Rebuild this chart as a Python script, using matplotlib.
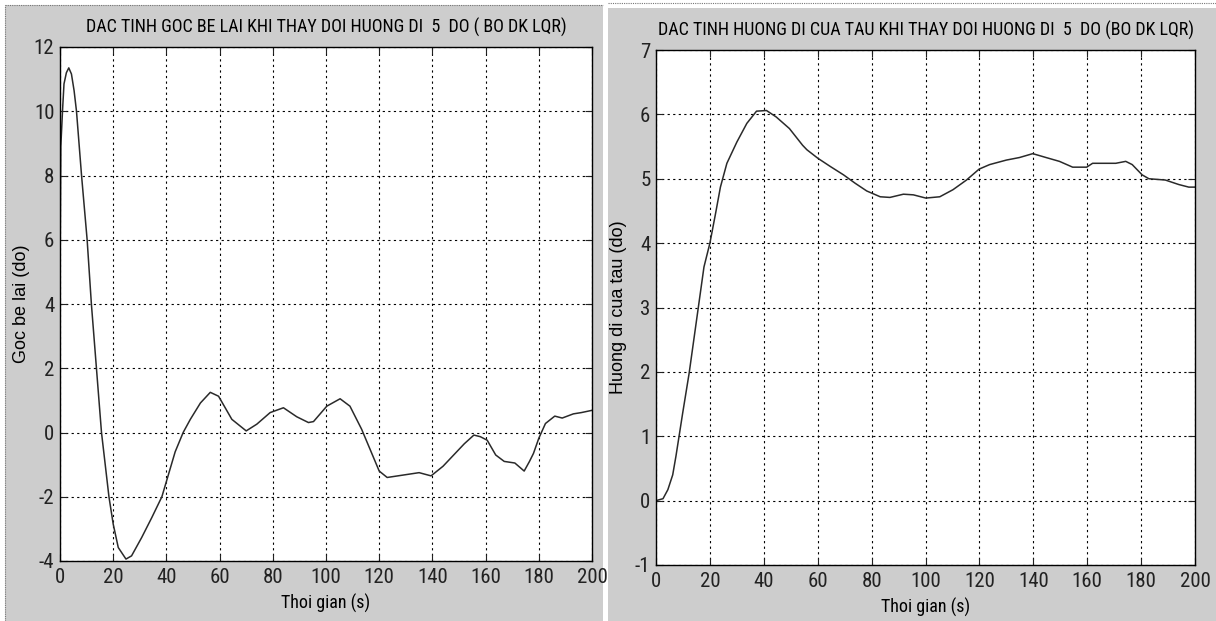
import numpy as np
import matplotlib
matplotlib.use("Agg")
import matplotlib.pyplot as plt
from matplotlib.patches import Rectangle
from matplotlib import font_manager

# rudder angle (left)
t_rud = [0, 0.3, 1.0, 1.5, 2.4, 3.3, 4.3, 5.3, 6.2, 8.1, 10.2, 11.8, 13.7, 15.6, 18.4,
         20, 21.9, 24.8, 26.9, 30.7, 34.5, 38.3, 43.3, 46.3, 49, 52.8, 56.5, 59.6,
         64.6, 70, 74, 79, 84, 89, 93.4, 95.3, 100.3, 105.3, 109, 113.4, 116.5, 120,
         123, 127, 131, 135, 139.5, 144, 148, 152, 155.6, 158, 160.6, 163.8, 167, 171,
         174.5, 176.5, 178, 180, 182.5, 186, 188.8, 193, 196, 200]
v_rud = [4.6, 8.9, 10.1, 10.85, 11.2, 11.35, 11.16, 10.64, 10.0, 8.0, 6.0, 4.0, 2.0, 0.0, -2.0,
         -2.85, -3.58, -3.94, -3.84, -3.27, -2.65, -2.0, -0.6, 0.0, 0.41, 0.92, 1.25, 1.13,
         0.41, 0.05, 0.26, 0.62, 0.77, 0.49, 0.31, 0.34, 0.82, 1.05, 0.82, 0.1, -0.51, -1.2,
         -1.4, -1.35, -1.3, -1.25, -1.35, -1.05, -0.7, -0.35, -0.08, -0.13, -0.24, -0.7, -0.9, -0.95,
         -1.2, -0.9, -0.65, -0.18, 0.28, 0.51, 0.45, 0.58, 0.62, 0.69]

# heading (right)
t_head = [0, 2.6, 4.4, 6.2, 7.4, 9.9, 12.3, 15.4, 17.8, 20, 22.1, 23.9, 26.3, 30, 33.7,
          37.3, 41, 44.6, 49.5, 54.4, 56, 60, 64.7, 69.6, 73.9, 78.2, 83.2, 86.8, 91.8,
          95.5, 100.1, 105.3, 110.2, 115.2, 119.9, 123.8, 130, 134.9, 139.8, 144.7, 149.7,
          154.6, 159.8, 162, 170.6, 174.3, 176.7, 180.4, 182.9, 189, 194, 197.7, 200]
v_head = [0, 0.03, 0.17, 0.40, 0.69, 1.36, 1.98, 2.91, 3.63, 4.0, 4.46, 4.87, 5.24, 5.57, 5.86,
          6.05, 6.06, 5.96, 5.78, 5.52, 5.45, 5.32, 5.19, 5.06, 4.93, 4.81, 4.72, 4.71, 4.76,
          4.75, 4.70, 4.72, 4.83, 4.98, 5.15, 5.22, 5.29, 5.33, 5.39, 5.33, 5.27,
          5.18, 5.18, 5.24, 5.24, 5.27, 5.22, 5.06, 5.0, 4.98, 4.91, 4.87, 4.87]

titles = ["DAC TINH GOC BE LAI KHI THAY DOI HUONG DI  5  DO ( BO DK LQR)",
          "DAC TINH HUONG DI CUA TAU KHI THAY DOI HUONG DI  5  DO (BO DK LQR)"]
ylabels = ["Goc be lai (do)", "Huong di cua tau (do)"]
xlab = "Thoi gian (s)"

names = {f.name for f in font_manager.fontManager.ttflist}
narrow = [n for n in ["Liberation Sans Narrow", "Roboto Condensed", "DejaVu Sans Condensed"]
          if n in names]
plt.rcParams['font.family'] = narrow + ['Liberation Sans', 'DejaVu Sans']
plt.rcParams['axes.unicode_minus'] = False
cond = len(narrow) > 0
fs_tick = 15 if cond else 12
fs_title = 13 if cond else 10.5
fs_lab = 13 if cond else 10.5

W, H = 1216, 621
fig = plt.figure(figsize=(W / 100, H / 100), dpi=100)
fig.patch.set_facecolor("white")

gray = "#cdcdcd"
# two screenshot panels
fig.patches.append(Rectangle((5 / W, 0), 598 / W, 616 / H, transform=fig.transFigure,
                             facecolor=gray, edgecolor="none", zorder=-2))
fig.patches.append(Rectangle((608 / W, 0), 608 / W, 613 / H, transform=fig.transFigure,
                             facecolor=gray, edgecolor="none", zorder=-2))
fig.lines.append(plt.Line2D([5 / W, 603 / W], [1 - 5 / H] * 2, transform=fig.transFigure,
                            color="#777777", lw=0.8, ls=(0, (1, 1))))
fig.lines.append(plt.Line2D([5 / W] * 2, [0, 1 - 5 / H], transform=fig.transFigure,
                            color="#777777", lw=0.8, ls=(0, (1, 1))))
fig.lines.append(plt.Line2D([608 / W, 1216 / W], [1 - 3 / H] * 2, transform=fig.transFigure,
                            color="#777777", lw=0.8, ls=(0, (1, 1))))

ax1 = fig.add_axes([60 / W, 1 - 561 / H, 532 / W, 514 / H])
ax2 = fig.add_axes([656 / W, 1 - 565 / H, 539 / W, 515 / H])

configs = [
    (ax1, t_rud, v_rud, (-4, 12), np.arange(-4, 13, 2), 30),
    (ax2, t_head, v_head, (-1, 7), np.arange(-1, 8, 1), 627),
]

for i, (ax, t, v, ylim, yt, ylx) in enumerate(configs):
    ax.set_facecolor("white")
    ax.plot(t, v, color="#2a2a2a", lw=1.1)
    ax.set_xlim(0, 200)
    ax.set_ylim(*ylim)
    ax.set_xticks(np.arange(0, 201, 20))
    ax.set_yticks(yt)
    ax.grid(True, color="black", ls=(0, (2, 3)), lw=0.8)
    ax.tick_params(direction="in", length=5, labelsize=fs_tick, top=True, right=True,
                   colors="#222222")
    ax.tick_params(axis="x", pad=5)
    ax.tick_params(axis="y", pad=4)
    for s in ax.spines.values():
        s.set_linewidth(1.0)
    ax.set_title(titles[i], fontsize=fs_title, pad=10)
    ax.set_xlabel(xlab, fontsize=fs_lab, labelpad=5)
    ax.set_ylabel(ylabels[i], fontsize=13, family=['Liberation Sans', 'DejaVu Sans'])
    bb = ax.get_position()
    ax.yaxis.set_label_coords((ylx - bb.x0 * W) / (bb.width * W), 0.5)

fig.savefig("out.png", dpi=100, facecolor=fig.get_facecolor())
